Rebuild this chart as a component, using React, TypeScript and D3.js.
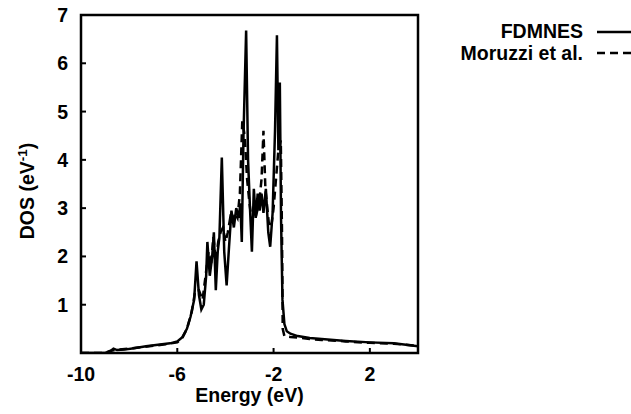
import * as d3 from 'd3';

// FDMNES calculated DOS: [energy (eV), DOS (eV^-1)]
const fdmnes: [number, number][] = [
  [-10, 0.0], [-9.0, 0.0], [-8.8, 0.03], [-8.65, 0.09], [-8.5, 0.06], [-8.2, 0.07],
  [-7.8, 0.1], [-7.3, 0.14], [-6.8, 0.17], [-6.3, 0.2], [-6.0, 0.24], [-5.8, 0.32],
  [-5.6, 0.5], [-5.45, 0.75], [-5.3, 1.1], [-5.2, 1.9], [-5.1, 1.2], [-5.0, 0.9],
  [-4.9, 1.0], [-4.8, 1.6], [-4.75, 2.3], [-4.65, 1.6], [-4.55, 2.0], [-4.48, 2.5],
  [-4.4, 1.3], [-4.32, 2.1], [-4.25, 2.4], [-4.15, 4.05], [-4.05, 2.1], [-3.95, 1.4],
  [-3.85, 2.2], [-3.75, 2.95], [-3.65, 2.6], [-3.55, 3.0], [-3.45, 2.8], [-3.38, 3.1],
  [-3.32, 2.3], [-3.25, 4.5], [-3.14, 6.68], [-3.06, 4.0], [-2.98, 3.0], [-2.9, 2.1],
  [-2.82, 3.4], [-2.74, 2.8], [-2.66, 3.3], [-2.58, 2.95], [-2.5, 3.3], [-2.42, 2.9],
  [-2.32, 3.4], [-2.22, 2.5], [-2.14, 2.2], [-2.04, 2.9], [-1.94, 4.6], [-1.86, 6.58],
  [-1.8, 4.2], [-1.74, 5.6], [-1.69, 2.8], [-1.63, 1.1], [-1.55, 0.6], [-1.45, 0.45],
  [-1.3, 0.4], [-1.0, 0.35], [-0.5, 0.31], [0, 0.29], [1, 0.25], [2, 0.22], [3, 0.2], [4, 0.14],
];

// Moruzzi et al. reference DOS
const moruzzi: [number, number][] = [
  [-10, 0.0], [-9.0, 0.0], [-8.8, 0.04], [-8.5, 0.07], [-8.0, 0.09], [-7.5, 0.12],
  [-7.0, 0.15], [-6.5, 0.18], [-6.0, 0.22], [-5.8, 0.3], [-5.6, 0.5], [-5.4, 0.85],
  [-5.25, 1.3], [-5.1, 1.3], [-4.95, 1.1], [-4.8, 1.7], [-4.7, 2.1], [-4.6, 1.8],
  [-4.5, 2.4], [-4.4, 1.9], [-4.3, 2.3], [-4.2, 2.5], [-4.1, 2.6], [-4.0, 2.3],
  [-3.9, 2.5], [-3.8, 2.8], [-3.7, 2.7], [-3.6, 2.9], [-3.5, 2.8], [-3.4, 3.3],
  [-3.3, 4.8], [-3.2, 4.5], [-3.1, 3.6], [-3.0, 3.1], [-2.9, 2.7], [-2.8, 3.0],
  [-2.7, 2.9], [-2.6, 3.1], [-2.5, 3.6], [-2.42, 4.6], [-2.34, 3.4], [-2.2, 2.7],
  [-2.1, 2.6], [-2.0, 3.0], [-1.9, 3.6], [-1.8, 4.2], [-1.7, 4.4], [-1.65, 2.5],
  [-1.62, 0.5], [-1.55, 0.35], [-1.3, 0.33], [-1.0, 0.32], [-0.5, 0.29], [0, 0.27],
  [1, 0.24], [2, 0.21], [3, 0.19], [4, 0.15],
];

const xTicks = [-10, -6, -2, 2];
const yTicks = [1, 2, 3, 4, 5, 6, 7];

const W = 631;
const H = 414;
const M = { left: 81, right: 213, top: 15, bottom: 61 };
const FONT = '"Liberation Sans", Arial, sans-serif';

export default function App() {
  const x = d3.scaleLinear().domain([-10, 4]).range([M.left, W - M.right]);
  const y = d3.scaleLinear().domain([0, 7]).range([H - M.bottom, M.top]);
  const line = d3.line<[number, number]>().x((d) => x(d[0])).y((d) => y(d[1]));
  const [x0, x1] = x.range();
  const [y0, y1] = y.range();

  return (
    <svg
      width={W}
      height={H}
      style={{ position: 'absolute', left: 0, top: 0, background: '#fff' }}
      fontFamily={FONT}
      fontWeight="bold"
      fontSize={19.5}
    >
      <defs>
        <clipPath id="plot">
          <rect x={x0} y={y1} width={x1 - x0} height={y0 - y1} />
        </clipPath>
      </defs>

      <g clipPath="url(#plot)" fill="none" stroke="#000" strokeWidth={2.5} strokeLinejoin="miter">
        <path d={line(moruzzi) ?? ''} strokeDasharray="8,5" />
        <path d={line(fdmnes) ?? ''} />
      </g>

      {/* ticks */}
      {yTicks.slice(0, -1).map((t) => (
        <line key={`yt${t}`} x1={x0} x2={x0 + 5} y1={y(t)} y2={y(t)} stroke="#000" strokeWidth={2} />
      ))}
      {xTicks.slice(1).map((t) => (
        <line key={`xt${t}`} x1={x(t)} x2={x(t)} y1={y0} y2={y0 - 5} stroke="#000" strokeWidth={2} />
      ))}

      <rect x={x0} y={y1} width={x1 - x0} height={y0 - y1} fill="none" stroke="#000" strokeWidth={2.5} />

      {yTicks.map((t) => (
        <text key={`yl${t}`} x={x0 - 13} y={y(t) + 7} textAnchor="end">{t}</text>
      ))}
      {xTicks.map((t) => (
        <text key={`xl${t}`} x={x(t)} y={y0 + 28} textAnchor="middle">{t}</text>
      ))}

      <text x={(x0 + x1) / 2} y={402} textAnchor="middle">Energy (eV)</text>
      <text transform={`translate(34,191) rotate(-90)`} textAnchor="middle">
        DOS (eV<tspan dy={-7} fontSize={13.5}>-1</tspan><tspan dy={7}>)</tspan>
      </text>

      {/* legend */}
      <text x={583} y={38} textAnchor="end">FDMNES</text>
      <line x1={597} x2={640} y1={32} y2={32} stroke="#000" strokeWidth={2.5} />
      <text x={583} y={60} textAnchor="end">Moruzzi et al.</text>
      <line x1={597} x2={640} y1={53} y2={53} stroke="#000" strokeWidth={2.5} strokeDasharray="8,5" />
    </svg>
  );
}
